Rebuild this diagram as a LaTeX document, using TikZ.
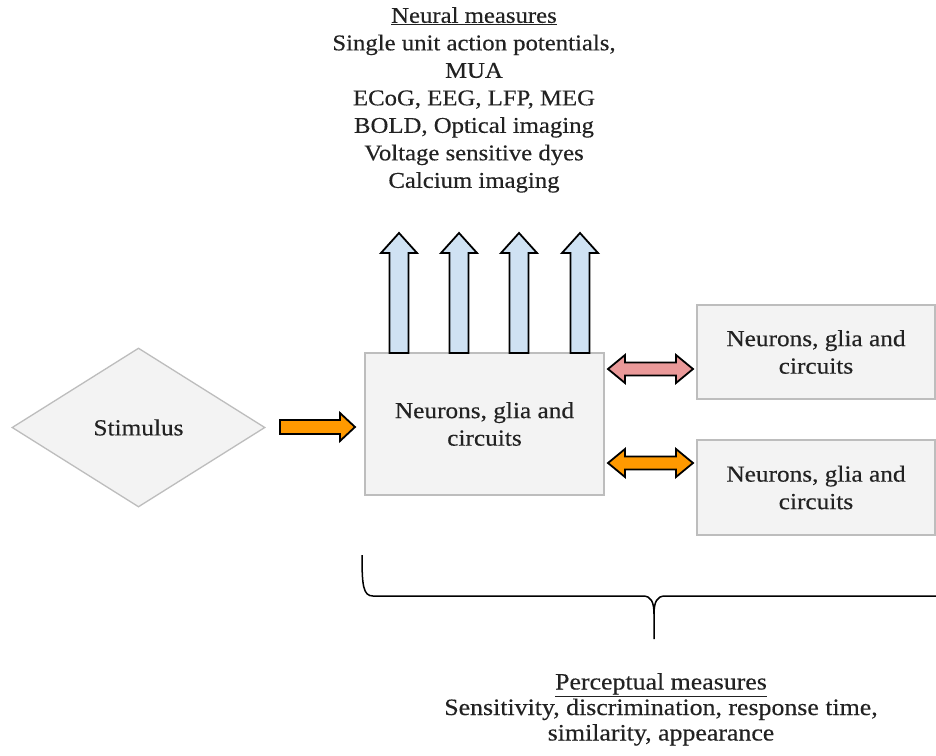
\documentclass[tikz,border=0pt]{standalone}
\usepackage{fontspec}
\setmainfont[FakeStretch=1.1,FakeBold=0.35]{Liberation Serif}
\usetikzlibrary{shapes.geometric}
\definecolor{boxfill}{HTML}{F3F3F3}
\definecolor{boxline}{HTML}{BDBDBD}
\definecolor{blu}{HTML}{CFE2F3}
\definecolor{orng}{HTML}{FF9900}
\definecolor{pnk}{HTML}{EA9999}
\definecolor{txt}{HTML}{222222}
% right-pointing fat arrow: fill, x1, x2, y, shaft half, head half, head length
\newcommand\RArrow[7]{\draw[fat,fill=#1] ({#2},{#4-#5}) -- ({#3-#7},{#4-#5}) -- ({#3-#7},{#4-#6}) -- ({#3},{#4}) -- ({#3-#7},{#4+#6}) -- ({#3-#7},{#4+#5}) -- ({#2},{#4+#5}) -- cycle;}
% double fat arrow
\newcommand\DArrow[7]{\draw[fat,fill=#1] ({#2},{#4}) -- ({#2+#7},{#4-#6}) -- ({#2+#7},{#4-#5}) -- ({#3-#7},{#4-#5}) -- ({#3-#7},{#4-#6}) -- ({#3},{#4}) -- ({#3-#7},{#4+#6}) -- ({#3-#7},{#4+#5}) -- ({#2+#7},{#4+#5}) -- ({#2+#7},{#4+#6}) -- cycle;}
% upward fat arrow: fill, x, ybottom, ytip, shaft half, head half, head length
\newcommand\UArrow[7]{\draw[fat,fill=#1] ({#2-#5},{#3}) -- ({#2-#5},{#4+#7}) -- ({#2-#6},{#4+#7}) -- ({#2},{#4}) -- ({#2+#6},{#4+#7}) -- ({#2+#5},{#4+#7}) -- ({#2+#5},{#3}) -- cycle;}
\begin{document}
\begin{tikzpicture}[x=1pt,y=-1pt,
  box/.style={draw=boxline, fill=boxfill, line width=1.3pt, inner sep=0pt, align=center,
    font=\fontsize{23}{27.5}\selectfont, text=txt},
  fat/.style={draw=black, line width=1.8pt, line join=miter},
  lbl/.style={align=center, inner sep=0pt, font=\fontsize{23}{27.5}\selectfont, text=txt}]
\useasboundingbox[fill=white] (0,0) rectangle (936,755);

% nodes
\node[box, diamond, aspect=1.59, minimum width=253pt, minimum height=159pt] (stim) at (138.5,427.5) {Stimulus};
\node[box, minimum width=239pt, minimum height=142pt] (main) at (484.5,424) {Neurons, glia and\\circuits};
\node[box, minimum width=238pt, minimum height=94pt] (r1) at (816,352) {Neurons, glia and\\circuits};
\node[box, minimum width=238pt, minimum height=95pt] (r2) at (816,487.5) {Neurons, glia and\\circuits};

\node[lbl, anchor=north, font=\fontsize{22.5}{27.5}\selectfont] (neural) at (474,7) {\underline{Neural measures}\\Single unit action potentials,\\MUA\\ECoG, EEG, LFP, MEG\\BOLD, Optical imaging\\Voltage sensitive dyes\\Calcium imaging};
\node[lbl, anchor=north, font=\fontsize{23.5}{25.5}\selectfont] (perc) at (661,673) {\underline{Perceptual measures}\\Sensitivity, discrimination, response time,\\similarity, appearance};

% fat arrows
\RArrow{orng}{280}{355}{427}{7}{14}{15}
\DArrow{pnk}{608}{693}{369}{6.5}{14}{17}
\DArrow{orng}{608}{693}{463}{6.5}{14}{17}
\UArrow{blu}{399}{353}{233}{9.5}{18}{20}
\UArrow{blu}{459}{353}{233}{9.5}{18}{20}
\UArrow{blu}{519}{353}{233}{9.5}{18}{20}
\UArrow{blu}{580}{353}{233}{9.5}{18}{20}

% brace
\coordinate (bl) at (362,555);
\coordinate (bt) at (654,639);
\coordinate (br) at (937,596);
\draw[line width=1.5pt, black] (bl) .. controls (362,585) and (363,596) .. (373,596) -- (643,596)
  .. controls (651,596) and (654,602) .. (654,614) -- (bt);
\draw[line width=1.5pt, black] (654,614) .. controls (654,602) and (657,596) .. (665,596) -- (br);
\end{tikzpicture}
\end{document}
